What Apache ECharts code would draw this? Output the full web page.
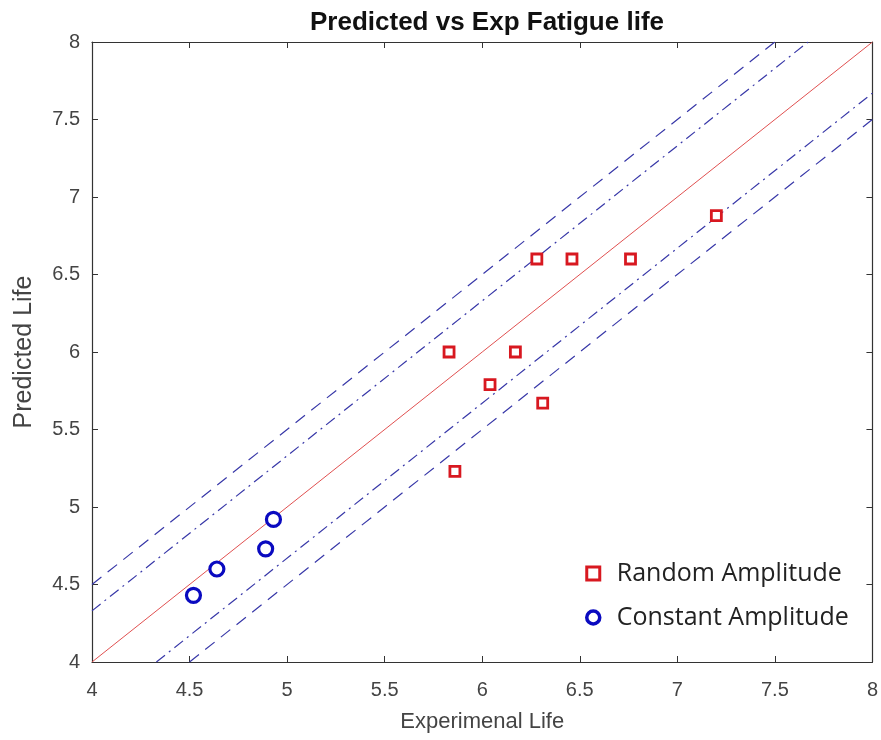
<!DOCTYPE html>
<html><head><meta charset="utf-8">
<script src="https://cdn.jsdelivr.net/npm/echarts@6/dist/echarts.min.js"></script>
<style>html,body{margin:0;padding:0;background:#fff}#c{width:881px;height:740px}</style>
</head><body><div id="c"></div>
<script>
var randomX = [7.20, 6.76, 6.46, 6.28, 5.83, 6.17, 6.04, 6.31, 5.86];
var randomY = [6.88, 6.60, 6.60, 6.60, 6.00, 6.00, 5.79, 5.67, 5.23];
var constX = [4.52, 4.64, 4.89, 4.93];
var constY = [4.43, 4.60, 4.73, 4.92];
var dashOffsets = [0.5, -0.5];
var dashDotOffsets = [0.33, -0.33];
var axisMin = 4, axisMax = 8;
var tickLabels = ['4','4.5','5','5.5','6','6.5','7','7.5','8'];

function bandLine(off){
  var x0 = off > 0 ? axisMin : axisMin - off;
  var x1 = off > 0 ? axisMax - off : axisMax;
  return [[x0, x0 + off], [x1, x1 + off]];
}
function zip(a,b){return a.map(function(v,i){return [v,b[i]];});}

var series = [];
series.push({type:'line', data:[[axisMin,axisMin],[axisMax,axisMax]], symbol:'none', silent:true,
  lineStyle:{color:'#e05050', width:1}, z:2});
dashOffsets.forEach(function(o){
  series.push({type:'line', data:bandLine(o), symbol:'none', silent:true,
    lineStyle:{color:'#3838a8', width:1.2, type:[12,8]}, z:2});
});
dashDotOffsets.forEach(function(o){
  series.push({type:'line', data:bandLine(o), symbol:'none', silent:true,
    lineStyle:{color:'#3838a8', width:1.2, type:[11,5,2,5]}, z:2});
});
series.push({name:'Random Amplitude', type:'scatter', data:zip(randomX,randomY), symbol:'rect', symbolSize:10,
  itemStyle:{color:'#fff', borderColor:'#d81820', borderWidth:2.8, opacity:1}, z:5});
series.push({name:'Constant Amplitude', type:'scatter', data:zip(constX,constY), symbol:'circle', symbolSize:14,
  itemStyle:{color:'#fff', borderColor:'#0a0ac0', borderWidth:3.2, opacity:1}, z:5});

var axisCommon = {type:'value', min:axisMin, max:axisMax, interval:0.5,
  axisLine:{show:true, onZero:false, lineStyle:{color:'#333', width:1.2}},
  axisTick:{show:true, inside:true, length:6, lineStyle:{color:'#333'}},
  splitLine:{show:false}};
function lbl(v){var s=String(v);return tickLabels.indexOf(s)>=0?s:'';}

var option = {
  backgroundColor:'#fff',
  animation:false,
  title:{text:'Predicted vs Exp Fatigue life', left:482, textAlign:'center', top:5,
    textStyle:{fontFamily:'Liberation Sans', fontWeight:'bold', fontSize:26, color:'#111'}},
  grid:{left:92, right:7, top:42, bottom:78},
  legend:{
    data:[
      {name:'Random Amplitude', icon:'rect', itemStyle:{color:'#fff', borderColor:'#d81820', borderWidth:3, opacity:1}},
      {name:'Constant Amplitude', icon:'circle', itemStyle:{color:'#fff', borderColor:'#0a0ac0', borderWidth:3.5, opacity:1}}
    ],
    orient:'vertical', left:580, top:556, itemGap:19,
    itemWidth:13, itemHeight:13, textStyle:{fontFamily:'Open Sans', fontSize:25, color:'#222', padding:[0,0,0,12]},
    backgroundColor:'#fff'},
  xAxis:[
    Object.assign({}, axisCommon, {position:'bottom', name:'Experimenal Life', nameLocation:'middle', nameGap:49,
      nameTextStyle:{fontFamily:'Liberation Sans', fontSize:22, color:'#444'},
      axisLabel:{formatter:lbl, fontFamily:'Liberation Sans', fontSize:20, color:'#444', margin:18}}),
    Object.assign({}, axisCommon, {position:'top', axisLabel:{show:false}})
  ],
  yAxis:[
    Object.assign({}, axisCommon, {position:'left', name:'Predicted Life', nameLocation:'middle', nameGap:55,
      nameTextStyle:{fontFamily:'Liberation Sans', fontSize:25, color:'#444'},
      axisLabel:{formatter:lbl, fontFamily:'Liberation Sans', fontSize:20, color:'#444', margin:12}}),
    Object.assign({}, axisCommon, {position:'right', axisLabel:{show:false}})
  ],
  series:series
};
var chart = echarts.init(document.getElementById('c'), null, {renderer:'canvas'});
chart.setOption(option);
</script></body></html>
